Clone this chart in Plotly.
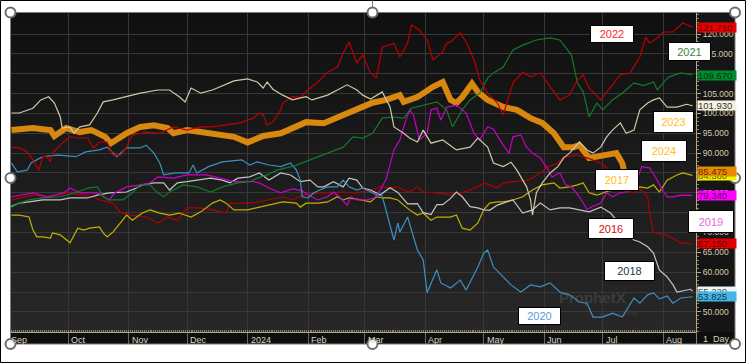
import plotly.graph_objects as go
import pandas as pd

# ---------------- data: (days since 1 Sep, value) ----------------
base_date = pd.Timestamp("2023-09-01")

s2024 = [(1, 95.8), (12, 96.3), (17, 96.0), (21, 95.8), (23, 94.3), (29, 96.3), (36, 95.3), (42, 95.8),
         (49, 94.1), (52, 92.5), (60, 95.0), (67, 96.6), (74, 97.0), (81, 96.3), (84, 95.0), (91, 95.8),
         (98, 95.3), (104, 95.0), (115, 94.1), (122, 92.7), (125, 93.3), (130, 94.3), (139, 95.0),
         (145, 96.3), (152, 97.8), (161, 97.5), (169, 99.1), (178, 100.9), (186, 102.7), (193, 103.4),
         (200, 104.6), (202, 102.9), (209, 104.1), (217, 106.7), (222, 107.9), (226, 103.4), (229, 102.6),
         (232, 104.1), (237, 107.5), (240, 105.4), (245, 103.4), (253, 101.6), (260, 100.9), (267, 98.8),
         (273, 97.6), (279, 95.0), (284, 91.5), (289, 91.5), (292, 92.0), (297, 88.8), (304, 89.5),
         (311, 90.0), (314, 87.5), (315, 85.475)]
s2023 = [(1, 100.1), (5, 100.1), (12, 101.3), (16, 103.4), (20, 104.2), (23, 102.6), (26, 99.1), (27, 96.3),
         (31, 96.6), (33, 95.0), (36, 96.6), (41, 97.1), (45, 100.1), (48, 102.9), (53, 103.4), (60, 104.2),
         (67, 105.1), (76, 105.9), (82, 105.9), (87, 104.2), (90, 102.9), (93, 106.4), (98, 105.1),
         (104, 105.9), (108, 106.7), (115, 108.2), (122, 108.7), (127, 107.9), (130, 106.4), (132, 107.9),
         (135, 106.1), (140, 104.6), (145, 103.4), (152, 104.2), (155, 103.4), (163, 104.6), (168, 105.9),
         (173, 107.2), (178, 105.9), (181, 104.6), (185, 103.6), (191, 105.4), (195, 101.6), (197, 96.6),
         (202, 95.0), (205, 93.8), (209, 92.8), (212, 95.8), (216, 92.5), (222, 93.3), (229, 90.8),
         (236, 91.5), (240, 93.8), (243, 92.5), (245, 91.5), (248, 87.5), (253, 86.6), (257, 87.7),
         (260, 85.7), (265, 81.5), (267, 78.2), (268, 74.4), (270, 80.0), (273, 82.5), (277, 85.0),
         (281, 86.6), (284, 88.8), (287, 90.0), (292, 92.8), (296, 90.8), (299, 90.0), (303, 91.5),
         (306, 94.1), (309, 95.8), (313, 97.6), (316, 95.0), (320, 95.8), (323, 100.9), (327, 102.6),
         (330, 103.4), (333, 103.9), (337, 101.6), (342, 101.6), (347, 102.3), (350, 101.93)]
s2022 = [(1, 91.5), (5, 91.3), (9, 90.3), (12, 88.3), (15, 85.7), (17, 89.1), (19, 89.1), (21, 87.8),
         (22, 90.0), (27, 92.5), (31, 94.1), (36, 93.8), (40, 93.8), (43, 91.3), (46, 92.8), (50, 92.8),
         (53, 89.5), (57, 89.5), (60, 91.5), (63, 94.6), (70, 95.3), (77, 95.0), (84, 96.6), (91, 95.8),
         (98, 96.6), (104, 96.6), (111, 97.1), (118, 97.6), (125, 98.8), (128, 100.1), (130, 99.6),
         (132, 97.1), (135, 97.8), (139, 100.9), (140, 102.6), (145, 104.2), (149, 104.1), (152, 105.5),
         (158, 107.9), (163, 110.4), (168, 111.7), (171, 115.2), (174, 118.0), (178, 112.7), (181, 114.7),
         (185, 110.2), (188, 108.9), (191, 116.7), (197, 117.7), (200, 114.2), (204, 117.7), (206, 122.3),
         (210, 121.0), (214, 118.5), (217, 113.5), (222, 115.5), (224, 117.7), (226, 118.0), (231, 120.3),
         (234, 118.0), (238, 113.5), (241, 108.4), (245, 105.1), (250, 102.6), (253, 99.6), (258, 107.7),
         (263, 110.4), (267, 109.2), (272, 110.2), (277, 106.7), (282, 103.4), (287, 104.6), (291, 108.4),
         (294, 109.7), (297, 106.4), (303, 103.4), (308, 106.7), (313, 109.7), (318, 110.2), (323, 114.2),
         (326, 119.2), (328, 117.7), (332, 119.0), (335, 120.5), (340, 120.5), (344, 122.3), (345, 122.8),
         (350, 121.71)]
s2021 = [(1, 76.4), (5, 77.4), (10, 78.2), (17, 78.7), (26, 79.0), (35, 80.2), (40, 81.2), (45, 81.5),
         (48, 79.0), (51, 78.2), (58, 78.2), (63, 80.0), (67, 82.0), (72, 82.0), (76, 80.0), (79, 79.0),
         (82, 80.2), (89, 82.0), (96, 81.5), (103, 80.2), (109, 81.5), (117, 82.5), (123, 82.8),
         (127, 83.7), (132, 84.5), (137, 85.7), (146, 86.8), (154, 88.3), (163, 90.0), (171, 91.5),
         (176, 94.1), (181, 93.8), (186, 95.0), (191, 98.8), (197, 99.1), (202, 98.8), (206, 101.3),
         (212, 102.1), (219, 102.9), (224, 100.9), (227, 96.6), (232, 100.9), (236, 103.4), (241, 105.1),
         (245, 108.9), (248, 110.2), (253, 111.7), (258, 116.0), (263, 117.2), (270, 118.5), (277, 119.0),
         (282, 118.5), (286, 116.0), (288, 114.7), (291, 107.7), (294, 105.4), (297, 99.1), (301, 102.6),
         (304, 100.9), (309, 103.4), (314, 105.1), (320, 107.7), (325, 107.0), (330, 107.9), (332, 105.9),
         (335, 107.7), (338, 109.2), (344, 110.2), (350, 109.67)]
s2020 = [(1, 87.5), (4, 85.3), (9, 85.7), (11, 87.5), (17, 89.1), (25, 89.5), (34, 89.1), (39, 90.3),
         (46, 90.8), (50, 91.5), (55, 89.1), (60, 91.3), (67, 91.3), (70, 92.0), (74, 90.0), (77, 87.5),
         (79, 84.5), (85, 85.0), (92, 85.0), (94, 87.0), (96, 85.0), (102, 86.6), (109, 87.8), (119, 88.3),
         (123, 87.0), (127, 87.8), (133, 87.0), (139, 86.6), (144, 87.5), (147, 85.7), (149, 83.2),
         (150, 79.0), (153, 78.7), (156, 80.0), (159, 80.7), (163, 81.5), (168, 81.5), (171, 83.2),
         (174, 81.5), (178, 80.7), (181, 81.2), (185, 80.2), (188, 79.5), (191, 79.2), (194, 73.5),
         (197, 68.1), (199, 72.4), (200, 70.1), (204, 73.9), (209, 65.6), (212, 63.1), (214, 54.8),
         (219, 60.6), (221, 57.3), (226, 56.0), (231, 58.0), (234, 55.5), (240, 61.3), (243, 64.8),
         (245, 65.6), (248, 61.3), (251, 59.8), (257, 56.8), (262, 55.0), (267, 56.8), (272, 56.3),
         (277, 57.3), (282, 55.0), (287, 54.3), (292, 52.5), (296, 52.2), (299, 48.7), (304, 48.7),
         (309, 49.7), (314, 48.7), (320, 53.5), (323, 52.2), (327, 54.3), (330, 54.8), (333, 53.3),
         (337, 54.0), (340, 52.2), (344, 53.5), (350, 53.825)]
s2019 = [(1, 79.0), (12, 80.0), (19, 79.0), (28, 80.0), (31, 81.2), (36, 80.0), (45, 80.0), (51, 78.2),
         (54, 80.0), (60, 81.5), (67, 82.0), (72, 82.5), (76, 84.0), (84, 83.7), (91, 84.5), (101, 84.5),
         (108, 83.7), (115, 82.8), (125, 82.8), (128, 82.5), (133, 81.2), (139, 80.0), (145, 81.0),
         (150, 80.5), (153, 79.5), (158, 78.2), (163, 79.0), (166, 80.2), (169, 79.0), (173, 76.9),
         (175, 79.0), (178, 78.2), (183, 78.2), (187, 78.7), (190, 80.7), (193, 83.5), (197, 90.8),
         (200, 93.3), (202, 96.6), (205, 100.9), (207, 99.6), (209, 95.0), (210, 93.3), (214, 95.0),
         (216, 100.9), (219, 101.3), (221, 98.3), (224, 101.6), (229, 102.1), (234, 100.1), (238, 95.0),
         (241, 93.3), (245, 96.6), (248, 96.0), (253, 92.0), (256, 90.0), (258, 94.1), (262, 94.6),
         (265, 91.5), (268, 90.0), (272, 88.8), (275, 86.6), (278, 84.0), (282, 85.0), (285, 82.0),
         (288, 81.5), (292, 79.0), (296, 75.8), (299, 76.6), (303, 77.4), (306, 80.0), (309, 79.0),
         (313, 80.0), (316, 80.2), (321, 82.5), (324, 86.6), (328, 86.3), (331, 84.0), (334, 81.2),
         (337, 79.0), (340, 79.0), (344, 79.4), (350, 79.34)]
s2018 = [(0, 76.4), (5, 77.4), (10, 77.7), (17, 78.2), (26, 78.2), (31, 78.7), (40, 78.7), (45, 79.4),
         (51, 80.0), (60, 80.2), (65, 81.2), (68, 82.0), (74, 82.5), (79, 82.5), (82, 80.7), (86, 82.5),
         (91, 82.8), (96, 83.2), (103, 83.7), (109, 83.2), (113, 82.5), (117, 83.7), (123, 84.0),
         (128, 85.0), (133, 83.2), (139, 85.0), (144, 84.5), (149, 82.8), (154, 83.2), (158, 81.5),
         (161, 81.5), (166, 82.8), (171, 81.5), (174, 83.7), (178, 83.2), (181, 81.2), (185, 80.7),
         (190, 79.5), (195, 81.3), (199, 80.1), (204, 77.2), (209, 77.3), (212, 75.0), (216, 74.5),
         (219, 77.0), (222, 77.0), (226, 78.6), (229, 80.2), (232, 79.0), (236, 76.5), (240, 76.2),
         (243, 75.7), (246, 75.6), (250, 76.9), (253, 77.4), (258, 78.2), (263, 74.9), (268, 75.7),
         (272, 77.4), (277, 75.7), (282, 76.2), (287, 76.2), (292, 75.7), (297, 75.2), (303, 76.4),
         (308, 74.9), (314, 71.4), (320, 68.1), (323, 67.6), (327, 66.4), (330, 64.8), (333, 60.6),
         (337, 58.8), (340, 56.8), (342, 55.0), (345, 55.3), (349, 55.7), (350, 55.22)]
s2017 = [(1, 74.4), (5, 74.4), (10, 73.9), (12, 70.6), (14, 68.9), (17, 68.9), (21, 68.6), (22, 69.9),
         (26, 69.4), (29, 68.1), (31, 67.4), (35, 71.1), (38, 70.6), (41, 71.1), (46, 71.4), (48, 69.9),
         (50, 68.9), (53, 70.1), (57, 72.4), (60, 74.4), (63, 73.1), (68, 74.9), (72, 75.7), (77, 74.9),
         (82, 74.4), (87, 74.9), (93, 73.9), (98, 75.2), (104, 77.4), (108, 78.2), (111, 77.4),
         (115, 75.7), (122, 75.7), (128, 76.4), (133, 76.9), (140, 77.7), (147, 77.4), (149, 76.4),
         (152, 77.4), (158, 77.4), (163, 77.7), (168, 79.0), (171, 78.2), (174, 78.7), (180, 78.2),
         (185, 77.7), (188, 79.0), (191, 78.7), (195, 78.7), (199, 78.2), (202, 76.9), (205, 75.7),
         (209, 74.4), (212, 74.9), (216, 73.1), (219, 73.9), (226, 73.9), (229, 74.4), (232, 71.1),
         (236, 70.6), (240, 72.4), (243, 75.7), (246, 77.4), (250, 77.7), (253, 77.7), (258, 78.2),
         (263, 79.0), (268, 80.7), (273, 82.0), (279, 82.5), (282, 81.2), (287, 81.5), (291, 82.0),
         (294, 82.5), (297, 80.0), (301, 79.4), (307, 80.5), (315, 81.0), (323, 81.5), (327, 81.2),
         (330, 82.0), (333, 80.2), (337, 83.2), (342, 84.5), (345, 85.0), (350, 84.38)]
s2016 = [(1, 78.2), (12, 79.4), (21, 79.0), (29, 80.0), (38, 79.4), (43, 79.0), (46, 78.2), (53, 77.4),
         (57, 75.0), (63, 74.4), (70, 73.9), (76, 72.4), (81, 73.9), (86, 73.1), (91, 76.2), (98, 76.2),
         (104, 75.7), (111, 74.9), (113, 77.4), (122, 77.4), (128, 77.7), (133, 78.2), (140, 79.0),
         (145, 78.2), (150, 79.4), (158, 80.0), (164, 80.0), (171, 80.2), (178, 80.0), (185, 80.7),
         (190, 81.5), (195, 81.2), (199, 81.5), (202, 80.7), (205, 80.2), (209, 81.5), (212, 80.2),
         (219, 80.0), (226, 79.4), (229, 80.2), (232, 80.0), (240, 81.5), (243, 82.5), (246, 82.0),
         (250, 81.2), (253, 82.5), (266, 83.2), (273, 85.3), (275, 86.3), (281, 87.5), (284, 89.0),
         (291, 89.5), (296, 88.8), (303, 87.5), (309, 85.0), (314, 80.7), (320, 80.0), (323, 81.0),
         (327, 79.0), (328, 75.0), (330, 70.0), (337, 69.4), (344, 67.4), (350, 67.15)]

month_dates = ["2023-09-01", "2023-10-01", "2023-11-01", "2023-12-01", "2024-01-01",
               "2024-02-01", "2024-03-01", "2024-04-01", "2024-05-01", "2024-06-01",
               "2024-07-01", "2024-08-01"]
month_labels = ["Sep", "Oct", "Nov", "Dec", "2024", "Feb", "Mar", "Apr", "May", "Jun", "Jul", "Aug"]
y_ticks = [50, 55, 60, 65, 70, 75, 80, 85, 90, 95, 100, 105, 110, 115, 120]

# ---------------- layout helpers ----------------
W, H = 746, 363
L, R, T, B = 11, 50, 13, 31
PW, PH = W - L - R, H - T - B
X_RANGE = ["2023-09-01 18:00", "2024-08-17 19:00"]


def px(x):
    return (x - L) / PW


def py(y):
    return (H - B - y) / PH


series = [
    # name, data, line colour, width, end-box bg, end-box text
    ("2024", s2024, "#d8870f", 6, "#e68a00", "#5a3000"),
    ("2016", s2016, "#b00000", 1.2, "#e00000", "#5a0000"),
    ("2017", s2017, "#c2b200", 1.2, "#f2f200", "#5a5a00"),
    ("2018", s2018, "#c4c4c4", 1.2, "#eef3f8", "#505050"),
    ("2019", s2019, "#c800c8", 1.2, "#ff00ff", "#5a005a"),
    ("2020", s2020, "#3d8fc0", 1.2, "#45b4e6", "#0d3850"),
    ("2021", s2021, "#147a2c", 1.2, "#008c2e", "#00300e"),
    ("2022", s2022, "#bc0000", 1.2, "#e60000", "#5a0000"),
    ("2023", s2023, "#d0c8a8", 1.2, "#f7f2de", "#333333"),
]

fig = go.Figure()
for name, data, col, wd, _, _ in series:
    xs = [base_date + pd.Timedelta(days=d) for d, _ in data]
    ys = [v for _, v in data]
    fig.add_trace(go.Scatter(x=xs, y=ys, mode="lines", name=name,
                             line=dict(color=col, width=wd), hoverinfo="skip"))

shapes = []
shapes.append(dict(type="rect", xref="paper", yref="paper",
                   x0=px(0.5), x1=px(745.5), y0=py(0.5), y1=py(362.5),
                   line=dict(color="#000000", width=1), fillcolor="rgba(0,0,0,0)", layer="above"))
shapes.append(dict(type="rect", xref="paper", yref="paper",
                   x0=px(11), x1=px(735), y0=py(344), y1=py(13),
                   line=dict(width=0), fillcolor="#151515", layer="below"))
shapes.append(dict(type="rect", xref="paper", yref="paper",
                   x0=px(11), x1=px(735), y0=py(344), y1=py(332),
                   line=dict(width=0), fillcolor="#0e0e0e", layer="below"))
NB = 32
for i in range(NB):
    ya = 13 + (332 - 13) * i / NB
    yb = 13 + (332 - 13) * (i + 1) / NB
    c = int(16 + (40 - 16) * (i + 0.5) / NB)
    shapes.append(dict(type="rect", xref="paper", yref="paper",
                       x0=0, x1=1, y0=py(yb), y1=py(ya),
                       line=dict(width=0), fillcolor=f"rgb({c},{c},{c})", layer="below"))
shapes.append(dict(type="line", xref="paper", yref="paper",
                   x0=px(696.5), x1=px(696.5), y0=py(344), y1=py(332),
                   line=dict(color="#8a826c", width=1), layer="above"))
shapes.append(dict(type="rect", xref="paper", yref="paper",
                   x0=px(10.5), x1=px(735), y0=py(344), y1=py(12.5),
                   line=dict(color="#7c7c7c", width=1), fillcolor="rgba(0,0,0,0)", layer="above"))
shapes.append(dict(type="line", xref="paper", yref="paper",
                   x0=px(372.5), x1=px(372.5), y0=py(8), y1=py(0.5),
                   line=dict(color="#7c7c7c", width=1), layer="above"))
for cx, cy in [(10.5, 12.5), (372.5, 12.5), (735, 12.5), (10.5, 178), (735, 178),
               (10.5, 344), (372.5, 344), (735, 344)]:
    shapes.append(dict(type="circle", xref="paper", yref="paper",
                       x0=px(cx - 5), x1=px(cx + 5), y0=py(cy + 5), y1=py(cy - 5),
                       line=dict(color="#6c6c6c", width=2), fillcolor="#ffffff", layer="above"))

annotations = []
FONT = "Liberation Sans, Arial, sans-serif"
x_start = pd.Timestamp(X_RANGE[0])
for d, lab in zip(month_dates, month_labels):
    xd = max(pd.Timestamp(d), x_start)
    annotations.append(dict(x=xd, xref="x", y=py(339.5), yref="paper", text=lab,
                            showarrow=False, xanchor="left", yanchor="middle",
                            xshift=1 if pd.Timestamp(d) >= x_start else -2,
                            font=dict(family=FONT, size=9, color="#ddd5c0")))
annotations.append(dict(x=px(716), xref="paper", y=py(338.5), yref="paper", text="1&nbsp;&nbsp;Day",
                        showarrow=False, xanchor="center", yanchor="middle",
                        font=dict(family=FONT, size=9, color="#ddd5c0")))
annotations.append(dict(x=px(628), xref="paper", y=py(308), yref="paper", text="<b>ProphetX</b>",
                        showarrow=False, font=dict(family=FONT, size=15, color="rgba(120,120,120,0.30)")))
annotations.append(dict(x=px(640), xref="paper", y=py(319), yref="paper", text="powered by DTN",
                        showarrow=False, font=dict(family=FONT, size=5, color="rgba(120,120,120,0.30)")))

end_order = ["2017", "2024", "2018", "2020", "2016", "2019", "2023", "2021", "2022"]
info = {s[0]: s for s in series}
for nm in end_order:
    name, data, col, wd, bg, tc = info[nm]
    v = data[-1][1]
    annotations.append(dict(x=1, xref="paper", y=v, yref="y", text=f"{v:.3f}",
                            showarrow=False, xanchor="left", yanchor="middle", xshift=1,
                            align="left", bgcolor=bg, borderpad=0, width=38, height=9,
                            font=dict(family=FONT, size=9.5, color=tc)))

labels = [
    ("2022", 611.5, 34.5, 44, 18, "#ff2626"),
    ("2021", 689, 52, 43, 19, "#3f7f3f"),
    ("2023", 673, 121.5, 41, 22, "#ffc020"),
    ("2024", 663.5, 150.5, 46, 22, "#ffc020"),
    ("2017", 616.5, 179.5, 44, 22, "#ffc020"),
    ("2016", 610.5, 228, 46, 21, "#d01010"),
    ("2018", 629, 270.5, 51, 20, "#203848"),
    ("2019", 710.5, 221, 46, 23, "#e070d8"),
    ("2020", 539, 315.5, 43, 18, "#5a9ad6"),
]
for txt, cx, cy, w, h, col in labels:
    annotations.append(dict(x=px(cx), xref="paper", y=py(cy), yref="paper", text=txt,
                            showarrow=False, xanchor="center", yanchor="middle",
                            bgcolor="#ffffff", bordercolor="#000000", borderwidth=1, borderpad=0,
                            width=w - 2, height=h - 2,
                            font=dict(family=FONT, size=11, color=col)))

fig.update_layout(
    width=W, height=H,
    margin=dict(l=L, r=R, t=T, b=B, pad=0),
    paper_bgcolor="#ffffff",
    plot_bgcolor="#1a1a1a",
    showlegend=False,
    hovermode=False,
    shapes=shapes,
    annotations=annotations,
    xaxis=dict(
        type="date", range=X_RANGE,
        tick0="2023-09-01", dtick="M1",
        showgrid=True, gridcolor="#383838", gridwidth=1,
        ticks="outside", ticklen=11, tickcolor="#6e685a", tickwidth=1,
        showticklabels=False,
        showline=True, linecolor="#b3a986", linewidth=1,
        minor=dict(ticks="inside", ticklen=2, dtick=86400000, tickcolor="#8a8068", showgrid=False),
        zeroline=False, fixedrange=True,
    ),
    yaxis=dict(
        side="right", range=[44.94, 125.29],
        tickmode="array", tickvals=y_ticks, tickformat=".3f",
        showgrid=True, gridcolor="#383838", gridwidth=1,
        ticks="outside", ticklen=4, tickcolor="#b3a986",
        tickfont=dict(family=FONT, size=8.5, color="#d6cba8"),
        showline=True, linecolor="#b3a986", linewidth=1,
        minor=dict(ticks="outside", ticklen=2, dtick=1, tickcolor="#8a8068", showgrid=False),
        zeroline=False, fixedrange=True,
    ),
)

fig.write_html("out.html", config={"displayModeBar": False},
               post_script="document.body.style.margin='0px';document.body.style.overflow='hidden';")
